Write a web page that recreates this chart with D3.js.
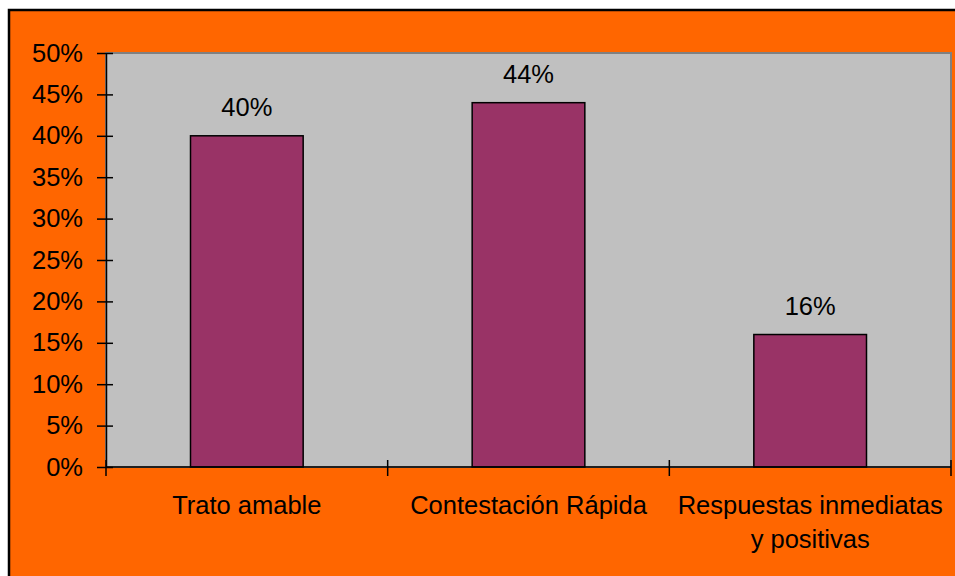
<!DOCTYPE html>
<html>
<head>
<meta charset="utf-8">
<script src="https://cdn.jsdelivr.net/npm/d3@7"></script>
<style>
  html, body { margin: 0; padding: 0; background: #ffffff; }
  svg { display: block; }
  text { font-family: "Liberation Sans", Arial, sans-serif; fill: #000; }
</style>
</head>
<body>
<svg id="chart" width="955" height="576"></svg>
<script>
// Survey results: share of answers per category
const categories = ["Trato amable", "Contestación Rápida", "Respuestas inmediatas\ny positivas"];
const values = [0.40, 0.44, 0.16];
const yTicks = [0, 0.05, 0.10, 0.15, 0.20, 0.25, 0.30, 0.35, 0.40, 0.45, 0.50];

const FONT = 25.5;
const svg = d3.select("#chart");
const W = 955, H = 576;
const plot = { left: 106, right: 951, top: 53, bottom: 467 };

// Chart area background with black frame
svg.append("rect")
  .attr("x", 9).attr("y", 10)
  .attr("width", W + 10).attr("height", H + 10)
  .attr("fill", "#FF6600")
  .attr("stroke", "#000").attr("stroke-width", 2.5);

// Plot area
svg.append("rect")
  .attr("x", plot.left).attr("y", plot.top)
  .attr("width", plot.right - plot.left).attr("height", plot.bottom - plot.top)
  .attr("fill", "#C0C0C0")
  .attr("stroke", "#808080").attr("stroke-width", 2);

const x = d3.scaleBand()
  .domain(categories)
  .range([plot.left, plot.right])
  .paddingInner(0).paddingOuter(0);

const y = d3.scaleLinear()
  .domain([0, 0.5])
  .range([plot.bottom, plot.top]);

// Bars
const barW = x.bandwidth() * 0.4;
svg.append("g").selectAll("rect")
  .data(values)
  .join("rect")
  .attr("x", (d, i) => x(categories[i]) + (x.bandwidth() - barW) / 2)
  .attr("y", d => y(d))
  .attr("width", barW)
  .attr("height", d => y(0) - y(d))
  .attr("fill", "#993366")
  .attr("stroke", "#000").attr("stroke-width", 1.5);

// Value labels
svg.append("g").selectAll("text")
  .data(values)
  .join("text")
  .attr("x", (d, i) => x(categories[i]) + x.bandwidth() / 2)
  .attr("y", d => y(d) - 20)
  .attr("text-anchor", "middle")
  .attr("font-size", FONT)
  .text(d => Math.round(d * 100) + "%");

// Y axis
const yAxis = d3.axisLeft(y)
  .tickValues(yTicks)
  .tickFormat(d => Math.round(d * 100) + "%")
  .tickSizeInner(9).tickSizeOuter(0).tickPadding(14);
const gy = svg.append("g").attr("transform", `translate(${plot.left},0)`).call(yAxis);
gy.select(".domain").attr("stroke", "#000").attr("stroke-width", 1.5);
gy.selectAll(".tick line").attr("x2", -9).attr("x1", 7).attr("stroke", "#000").attr("stroke-width", 1.5);
gy.selectAll(".tick text").attr("font-size", FONT).attr("font-family", "Liberation Sans, Arial, sans-serif").attr("fill", "#000");

// X axis line and category boundary ticks
const boundaries = categories.map(c => x(c)).concat([x(categories[categories.length - 1]) + x.bandwidth()]);
svg.append("line")
  .attr("x1", plot.left).attr("x2", plot.right)
  .attr("y1", y(0)).attr("y2", y(0))
  .attr("stroke", "#000").attr("stroke-width", 1.5);
svg.append("g").selectAll("line")
  .data(boundaries)
  .join("line")
  .attr("x1", d => d).attr("x2", d => d)
  .attr("y1", y(0) - 7).attr("y2", y(0) + 9)
  .attr("stroke", "#000").attr("stroke-width", 1.5);

// Category labels (multi-line)
const labels = svg.append("g").selectAll("text")
  .data(categories)
  .join("text")
  .attr("x", d => x(d) + x.bandwidth() / 2)
  .attr("y", 514)
  .attr("text-anchor", "middle")
  .attr("font-size", FONT);
labels.each(function (d) {
  const t = d3.select(this);
  d.split("\n").forEach((line, i) => {
    t.append("tspan")
      .attr("x", t.attr("x"))
      .attr("dy", i === 0 ? 0 : 34)
      .text(line);
  });
});
</script>
</body>
</html>
